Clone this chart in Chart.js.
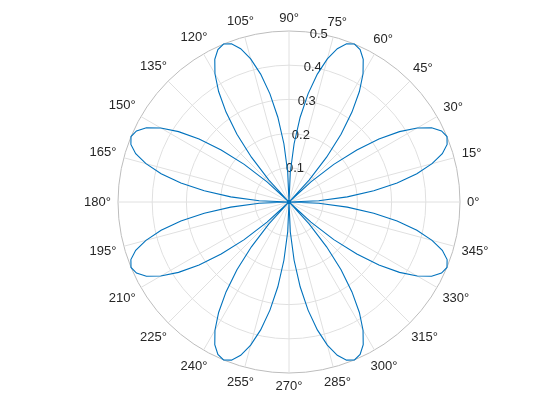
<!DOCTYPE html>
<html>
<head>
<meta charset="utf-8">
<script src="https://cdn.jsdelivr.net/npm/chart.js@4"></script>
<style>
  body { margin: 0; background: #fff; }
</style>
</head>
<body>
<canvas id="polar" width="560" height="420"></canvas>
<script>
// angle samples in degrees (counterclockwise from 0°)
const thetaDeg = [
  0, 2.5, 5, 7.5, 10, 12.5, 15, 17.5, 20, 22.5, 25, 27.5, 30, 32.5, 35, 37.5, 40, 42.5,
  45, 47.5, 50, 52.5, 55, 57.5, 60, 62.5, 65, 67.5, 70, 72.5, 75, 77.5, 80, 82.5, 85, 87.5,
  90, 92.5, 95, 97.5, 100, 102.5, 105, 107.5, 110, 112.5, 115, 117.5, 120, 122.5, 125, 127.5, 130, 132.5,
  135, 137.5, 140, 142.5, 145, 147.5, 150, 152.5, 155, 157.5, 160, 162.5, 165, 167.5, 170, 172.5, 175, 177.5,
  180, 182.5, 185, 187.5, 190, 192.5, 195, 197.5, 200, 202.5, 205, 207.5, 210, 212.5, 215, 217.5, 220, 222.5,
  225, 227.5, 230, 232.5, 235, 237.5, 240, 242.5, 245, 247.5, 250, 252.5, 255, 257.5, 260, 262.5, 265, 267.5,
  270, 272.5, 275, 277.5, 280, 282.5, 285, 287.5, 290, 292.5, 295, 297.5, 300, 302.5, 305, 307.5, 310, 312.5,
  315, 317.5, 320, 322.5, 325, 327.5, 330, 332.5, 335, 337.5, 340, 342.5, 345, 347.5, 350, 352.5, 355, 357.5
];

// radius read at each angle (eight petals, peak 0.5)
const rho = [
  0, 0.087, 0.171, 0.25, 0.321, 0.383, 0.433, 0.47, 0.492, 0.5, 0.492, 0.47, 0.433, 0.383, 0.321, 0.25, 0.171, 0.087,
  0, 0.087, 0.171, 0.25, 0.321, 0.383, 0.433, 0.47, 0.492, 0.5, 0.492, 0.47, 0.433, 0.383, 0.321, 0.25, 0.171, 0.087,
  0, 0.087, 0.171, 0.25, 0.321, 0.383, 0.433, 0.47, 0.492, 0.5, 0.492, 0.47, 0.433, 0.383, 0.321, 0.25, 0.171, 0.087,
  0, 0.087, 0.171, 0.25, 0.321, 0.383, 0.433, 0.47, 0.492, 0.5, 0.492, 0.47, 0.433, 0.383, 0.321, 0.25, 0.171, 0.087,
  0, 0.087, 0.171, 0.25, 0.321, 0.383, 0.433, 0.47, 0.492, 0.5, 0.492, 0.47, 0.433, 0.383, 0.321, 0.25, 0.171, 0.087,
  0, 0.087, 0.171, 0.25, 0.321, 0.383, 0.433, 0.47, 0.492, 0.5, 0.492, 0.47, 0.433, 0.383, 0.321, 0.25, 0.171, 0.087,
  0, 0.087, 0.171, 0.25, 0.321, 0.383, 0.433, 0.47, 0.492, 0.5, 0.492, 0.47, 0.433, 0.383, 0.321, 0.25, 0.171, 0.087,
  0, 0.087, 0.171, 0.25, 0.321, 0.383, 0.433, 0.47, 0.492, 0.5, 0.492, 0.47, 0.433, 0.383, 0.321, 0.25, 0.171, 0.087
];

const thetaTicks = [0, 15, 30, 45, 60, 75, 90, 105, 120, 135, 150, 165, 180, 195, 210, 225, 240, 255, 270, 285, 300, 315, 330, 345];
const rTicks = [0.1, 0.2, 0.3, 0.4, 0.5];
const rAxisAngle = 80; // where the r tick labels sit

const FONT = '13px "Liberation Sans", Arial, sans-serif';
const TEXT = '#262626';
const BLUE = '#0072BD';

// radar goes clockwise, so walk the samples backwards (0, 357.5, 355, ...)
const order = thetaDeg.map((t, i) => (i === 0 ? 0 : thetaDeg.length - i));
const labels = order.map(i => thetaDeg[i]);
const values = order.map(i => rho[i]);

// theta and r labels drawn from the scale's center and radius
const polarLabels = {
  id: 'polarLabels',
  beforeDatasetsDraw(chart) {
    const s = chart.scales.r;
    const ctx = chart.ctx;
    ctx.save();
    ctx.font = FONT;
    ctx.fillStyle = TEXT;
    ctx.textAlign = 'center';
    ctx.textBaseline = 'middle';
    const a = rAxisAngle * Math.PI / 180;
    rTicks.forEach(v => {
      const d = s.getDistanceFromCenterForValue(v);
      ctx.fillText(String(v), s.xCenter + d * Math.cos(a), s.yCenter - d * Math.sin(a) + 0.5);
    });
    ctx.restore();
  },
  afterDraw(chart) {
    const s = chart.scales.r;
    const ctx = chart.ctx;
    ctx.save();
    ctx.font = FONT;
    ctx.fillStyle = TEXT;
    ctx.textAlign = 'center';
    ctx.textBaseline = 'middle';
    thetaTicks.forEach(t => {
      const txt = t + '°';
      const w = ctx.measureText(txt).width;
      const a = t * Math.PI / 180;
      const c = Math.cos(a), sn = Math.sin(a);
      const d = s.drawingArea + 7 + (w / 2) * Math.abs(c) + 6 * Math.abs(sn);
      ctx.fillText(txt, s.xCenter + d * c, s.yCenter - d * sn);
    });
    ctx.restore();
  }
};

new Chart(document.getElementById('polar'), {
  type: 'radar',
  data: {
    labels: labels,
    datasets: [{
      data: values,
      borderColor: BLUE,
      borderWidth: 1.1,
      fill: false,
      tension: 0,
      // the curve bunches up where it crosses the origin
      pointRadius: c => (values[c.dataIndex] === 0 ? 2 : 0),
      pointBackgroundColor: BLUE,
      pointBorderColor: BLUE,
      pointBorderWidth: 0,
      pointHitRadius: 0
    }]
  },
  options: {
    responsive: false,
    animation: false,
    layout: { padding: { left: 118, right: 100, top: 31, bottom: 47 } },
    plugins: { legend: { display: false }, tooltip: { enabled: false } },
    scales: {
      r: {
        startAngle: 90,
        min: 0,
        max: 0.5,
        ticks: { display: false, stepSize: 0.1 },
        pointLabels: { display: false },
        grid: {
          circular: true,
          color: c => (c.tick && c.tick.value >= 0.5 ? '#bdbdbd' : '#e0e0e0'),
          lineWidth: 1
        },
        angleLines: {
          color: '#e0e0e0',
          lineWidth: c => (Number(c.label) % 15 === 0 ? 1 : 0)
        }
      }
    }
  },
  plugins: [polarLabels]
});
</script>
</body>
</html>
